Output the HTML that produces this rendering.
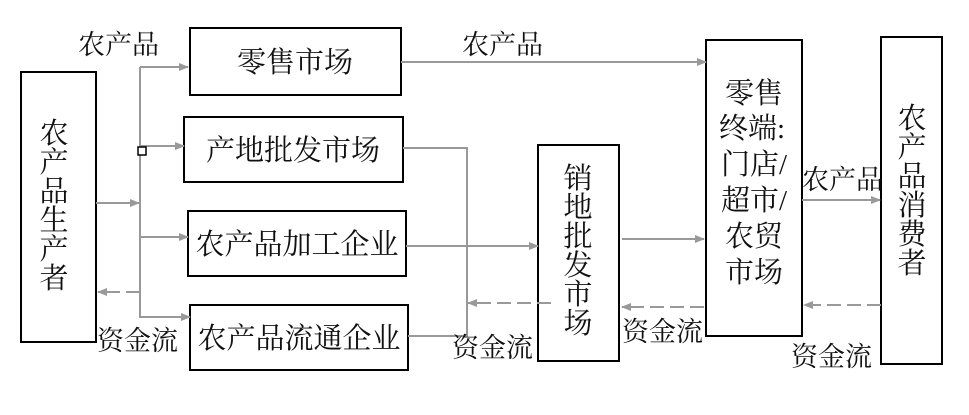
<!DOCTYPE html>
<html><head><meta charset="utf-8"><style>
html,body{margin:0;padding:0;background:#fff;}
svg{display:block;}
text{font-family:"Liberation Serif","Noto Serif CJK SC",serif;fill:#111;}
</style></head><body>
<svg width="969" height="415" viewBox="0 0 969 415" xmlns="http://www.w3.org/2000/svg">
<defs>
<marker id="a" markerWidth="10" markerHeight="8" refX="9" refY="4" orient="auto" markerUnits="userSpaceOnUse">
<path d="M0,0 L10,4 L0,8 Z" fill="#999"/></marker>
</defs>
<g fill="none" stroke="#000" stroke-width="2">
<rect x="21" y="72" width="75" height="270"/>
<rect x="190" y="28" width="211" height="67"/>
<rect x="184" y="117" width="219" height="65"/>
<rect x="188" y="211" width="218" height="65"/>
<rect x="190" y="305" width="218" height="65"/>
<rect x="538" y="145" width="81" height="216"/>
<rect x="706" y="40" width="96" height="296"/>
<rect x="881" y="37" width="61" height="327"/>
</g>
<g stroke="#999" stroke-width="2" fill="none">
<line x1="140" y1="67" x2="140" y2="318"/>
<line x1="140" y1="67" x2="188" y2="67" marker-end="url(#a)"/>
<line x1="140" y1="146" x2="184" y2="146" marker-end="url(#a)"/>
<line x1="140" y1="237" x2="188" y2="237" marker-end="url(#a)"/>
<line x1="140" y1="317" x2="190" y2="317" marker-end="url(#a)"/>
<line x1="96" y1="203" x2="139" y2="203" marker-end="url(#a)"/>
<line x1="140" y1="292" x2="98" y2="292" stroke-dasharray="14,6" marker-end="url(#a)"/>
<line x1="401" y1="62" x2="706" y2="62" marker-end="url(#a)"/>
<polyline points="403,148 467,148 467,336 408,336"/>
<line x1="406" y1="246" x2="538" y2="246" marker-end="url(#a)"/>
<line x1="551" y1="303" x2="468" y2="303" stroke-dasharray="14,6" marker-end="url(#a)"/>
<line x1="622" y1="239" x2="704" y2="239" marker-end="url(#a)"/>
<line x1="704" y1="307" x2="622" y2="307" stroke-dasharray="14,6" marker-end="url(#a)"/>
<line x1="802" y1="200" x2="880" y2="200" marker-end="url(#a)"/>
<line x1="881" y1="305" x2="804" y2="305" stroke-dasharray="14,6" marker-end="url(#a)"/>
</g>
<rect x="138" y="147" width="8" height="8" fill="#fff" stroke="#000" stroke-width="1.5"/>
<g font-size="27">
<text x="78" y="54">农产品</text>
<text x="462" y="54">农产品</text>
<text x="802" y="189">农产品</text>
<text x="97" y="350">资金流</text>
<text x="452" y="357">资金流</text>
<text x="622" y="341">资金流</text>
<text x="791" y="366">资金流</text>
</g>
<g font-size="29" text-anchor="middle">
<text x="295" y="72">零售市场</text>
<text x="293" y="160">产地批发市场</text>
<text x="297" y="254">农产品加工企业</text>
<text x="299" y="348">农产品流通企业</text>
</g>
<g font-size="29" text-anchor="middle">
<text x="54" y="143">农</text><text x="54" y="172">产</text><text x="54" y="201">品</text><text x="54" y="230">生</text><text x="54" y="259">产</text><text x="54" y="288">者</text>
<text x="578" y="188">销</text><text x="578" y="217">地</text><text x="578" y="246">批</text><text x="578" y="275">发</text><text x="578" y="304">市</text><text x="578" y="333">场</text>
<text x="912" y="128">农</text><text x="912" y="157">产</text><text x="912" y="186">品</text><text x="912" y="215">消</text><text x="912" y="244">费</text><text x="912" y="273">者</text>
</g>
<g font-size="29">
<text x="725" y="103">零售</text>
<text x="719" y="138">终端:</text>
<text x="721" y="174">门店/</text>
<text x="721" y="210">超市/</text>
<text x="725" y="246">农贸</text>
<text x="725" y="282">市场</text>
</g>
</svg>
</body></html>
